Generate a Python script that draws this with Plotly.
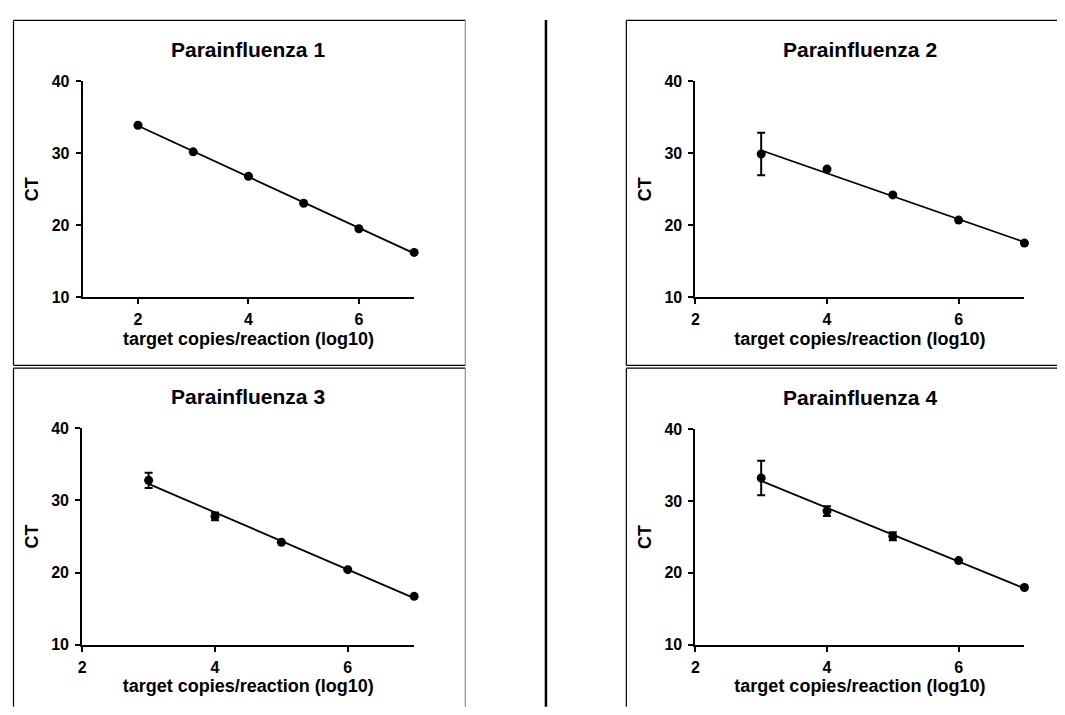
import numpy as np
import plotly.graph_objects as go

# The page body adds an 8px margin on every side, so the figure is sized so that
# figure + margins fills the 1065x715 window exactly.
PAGE_W, PAGE_H = 1065, 715
BODY = 8
W, H = PAGE_W - 2 * BODY, PAGE_H - 2 * BODY

# ---------------- data ----------------
titles = ["Parainfluenza 1", "Parainfluenza 2", "Parainfluenza 3", "Parainfluenza 4"]
x_label = "target copies/reaction (log10)"
y_label = "CT"

x1 = [2, 3, 4, 5, 6, 7]
y1 = [33.9, 30.2, 26.8, 23.05, 19.5, 16.2]
e1 = [0, 0, 0, 0, 0, 0]

x2 = [3, 4, 5, 6, 7]
y2 = [29.9, 27.8, 24.2, 20.7, 17.5]
e2 = [2.95, 0, 0, 0, 0]

x3 = [3, 4, 5, 6, 7]
y3 = [32.8, 27.8, 24.2, 20.4, 16.7]
e3 = [1.05, 0.55, 0, 0, 0]

x4 = [3, 4, 5, 6, 7]
y4 = [33.2, 28.6, 25.1, 21.7, 17.95]
e4 = [2.4, 0.68, 0.55, 0, 0]

x_ranges = [[1, 7], [2, 7], [2, 7], [2, 7]]
y_range = [10, 40]
x_ticks = [2, 4, 6]
y_ticks = [10, 20, 30, 40]

series = [(x1, y1, e1), (x2, y2, e2), (x3, y3, e3), (x4, y4, e4)]

# ---------------- layout helpers (page pixels -> paper) ----------------
def px_x(p):
    return (p - BODY) / W

def px_y(p):
    return 1 - (p - BODY) / H

# plot-area pixel boxes on the page (left, right, top, bottom)
boxes = [
    (79, 411.7, 75, 296),
    (694, 1024.3, 75, 296),
    (78.5, 411.7, 430.7, 652.3),
    (694, 1024.3, 431.5, 652.3),
]

FONT = "Liberation Sans, Arial, sans-serif"

fig = go.Figure()
layout = dict(
    width=W, height=H, autosize=False,
    margin=dict(l=0, r=0, t=0, b=0),
    paper_bgcolor="white", plot_bgcolor="white",
    showlegend=False,
    font=dict(family=FONT, color="black"),
)

annotations = []
for i, ((xs, ys, es), box, xr, title) in enumerate(zip(series, boxes, x_ranges, titles)):
    n = "" if i == 0 else str(i + 1)
    xa, ya = "x" + n, "y" + n
    fig.add_trace(go.Scatter(
        x=xs, y=ys, mode="markers", xaxis=xa, yaxis=ya,
        marker=dict(color="black", size=9),
        error_y=dict(type="data", array=es, visible=True, color="black",
                     thickness=2, width=4),
        cliponaxis=False,
    ))
    # linear regression line computed from the data
    slope, intercept = np.polyfit(xs, ys, 1)
    fx = [min(xs), max(xs)]
    fy = [slope * v + intercept for v in fx]
    fig.add_trace(go.Scatter(
        x=fx, y=fy, mode="lines", xaxis=xa, yaxis=ya,
        line=dict(color="black", width=1.8), cliponaxis=False,
    ))
    l, r, t, b = box
    layout["xaxis" + n] = dict(
        domain=[px_x(l), px_x(r)], anchor=ya, range=xr,
        tickvals=x_ticks, ticks="outside", ticklen=5, tickwidth=2, tickcolor="black",
        showline=True, linewidth=2, linecolor="black", showgrid=False, zeroline=False,
        tickfont=dict(family=FONT, size=16, color="black", weight="bold"),
        ticklabelstandoff=2,
        title=dict(text=x_label, standoff=5,
                   font=dict(family=FONT, size=18, color="black", weight="bold")),
        fixedrange=True,
    )
    layout["yaxis" + n] = dict(
        domain=[px_y(b), px_y(t)], anchor=xa, range=y_range,
        tickvals=y_ticks, ticks="outside", ticklen=5, tickwidth=2, tickcolor="black",
        showline=True, linewidth=2, linecolor="black", showgrid=False, zeroline=False,
        tickfont=dict(family=FONT, size=16, color="black", weight="bold"),
        ticklabelstandoff=3,
        title=dict(text=y_label, standoff=8,
                   font=dict(family=FONT, size=18, color="black", weight="bold")),
        fixedrange=True,
    )
    annotations.append(dict(
        text="<b>" + title + "</b>", xref="paper", yref="paper",
        x=px_x((l + r) / 2), y=px_y(t - 33), xanchor="center", yanchor="middle",
        showarrow=False, font=dict(family=FONT, size=21, color="black"),
    ))

def seg(x0, y0, x1_, y1_, w=1.2, c="black"):
    return dict(type="line", xref="paper", yref="paper",
                x0=px_x(x0), y0=px_y(y0), x1=px_x(x1_), y1=px_y(y1_),
                line=dict(color=c, width=w))

shapes = [
    # top-left frame
    seg(9.5, 12.5, 463, 12.5), seg(9.5, 12.5, 9.5, 366), seg(9.5, 366, 463, 366),
    seg(463, 12.5, 463, 366, w=1, c="#777777"),
    # bottom-left frame
    seg(9.5, 369, 463, 369), seg(9.5, 369, 9.5, 716),
    seg(463, 369, 463, 716, w=1, c="#777777"),
    # divider
    seg(544, 12, 544, 716, w=2.5),
    # top-right frame
    seg(624.7, 12.5, 1066, 12.5), seg(624.7, 12.5, 624.7, 366), seg(624.7, 366, 1066, 366),
    # bottom-right frame
    seg(624.7, 369, 1066, 369), seg(624.7, 369, 624.7, 716),
]

layout["annotations"] = annotations
layout["shapes"] = shapes
fig.update_layout(**layout)
fig.write_html("out.html")
